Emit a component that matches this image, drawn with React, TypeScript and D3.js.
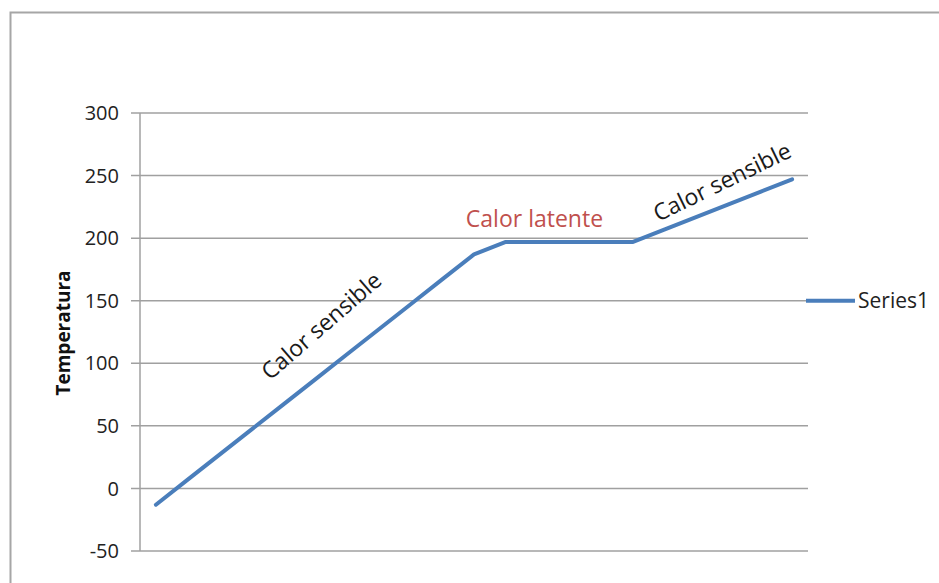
import React from "react";
import * as d3 from "d3";

const categories = ["1","2","3","4","5","6","7","8","9","10","11","12","13","14","15","16","17","18","19","20","21"];
const series1 = [-13, 7, 27, 47, 67, 87, 107, 127, 147, 167, 187, 197, 197, 197, 197, 197, 207, 217, 227, 237, 247];
const yTicks = [-50, 0, 50, 100, 150, 200, 250, 300];
const seriesName = "Series1";
const yTitle = "Temperatura";
const annotations = [
  { text: "Calor sensible", cat: 5.2, val: 130, angle: -41, color: "#1a1a1a" },
  { text: "Calor latente", cat: 11.9, val: 215, angle: 0, color: "#c0504d" },
  { text: "Calor sensible", cat: 17.8, val: 245, angle: -26, color: "#1a1a1a" },
];

const W = 939, H = 583;
const left = 140, right = 808, top = 113, bottom = 551;

export default function App() {
  const x = d3.scaleLinear().domain([-0.5, categories.length - 0.5]).range([left, right]);
  const y = d3.scaleLinear().domain([-50, 300]).range([bottom, top]);
  const line = d3.line<number>().x((_, i) => x(i)).y((d) => y(d));
  const font = "'Open Sans', sans-serif";
  return (
    <svg width={W} height={H} style={{ position: "absolute", left: 0, top: 0, background: "#fff" }}>
      <rect x={10.5} y={12.5} width={940} height={600} fill="#fff" stroke="#a6a6a6" strokeWidth={2} />
      {yTicks.map((t) => (
        <g key={t}>
          <line x1={left - 9} x2={right} y1={y(t)} y2={y(t)} stroke="#a0a0a0" strokeWidth={1.5} />
          <text x={119} y={y(t)} dy="0.36em" textAnchor="end" fontFamily={font} fontSize={20} fill="#222">{t}</text>
        </g>
      ))}
      <line x1={left} x2={left} y1={top} y2={bottom} stroke="#a0a0a0" strokeWidth={1.5} />
      <text transform={`translate(70,${(top + bottom) / 2 + 1}) rotate(-90)`} textAnchor="middle" fontFamily={font} fontWeight="bold" fontSize={19} fill="#111">{yTitle}</text>
      <path d={line(series1) || ""} fill="none" stroke="#4a7ebb" strokeWidth={4} strokeLinejoin="round" strokeLinecap="round" />
      {annotations.map((a, i) => (
        <text key={i} transform={`translate(${x(a.cat)},${y(a.val)}) rotate(${a.angle})`} textAnchor="middle" dy="0.35em" fontFamily={font} fontSize={23} fill={a.color}>{a.text}</text>
      ))}
      <line x1={806} x2={855} y1={y(150)} y2={y(150)} stroke="#4a7ebb" strokeWidth={4} />
      <text x={858} y={y(150)} dy="0.36em" fontFamily={font} fontSize={21} fill="#222">{seriesName}</text>
    </svg>
  );
}
